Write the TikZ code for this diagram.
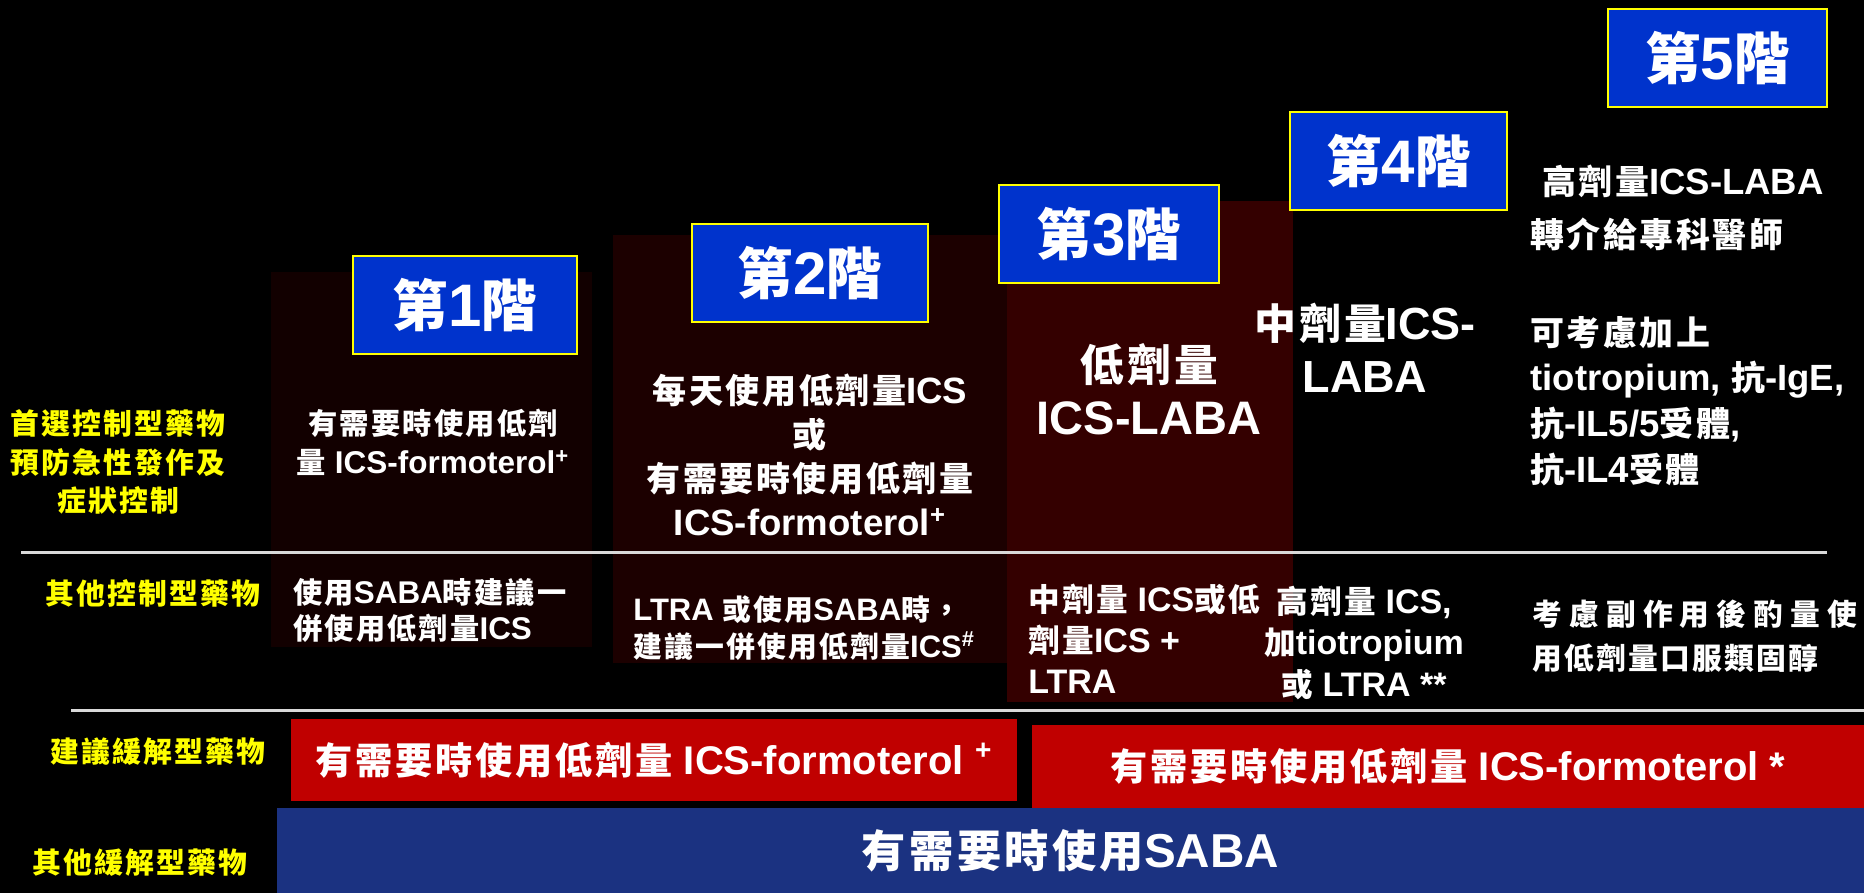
\documentclass[tikz,border=0pt]{standalone}
\usepackage{fontspec}
\setmainfont{Noto Sans CJK TC}[Scale=0.93, LetterSpace=7.5]
\newfontfamily\arialfont{Liberation Sans}
\usepackage{tikz}
\definecolor{STEP}{HTML}{0033CC}
\definecolor{EDGE}{HTML}{FFFF00}
\definecolor{PA}{HTML}{120000}
\definecolor{PB}{HTML}{1C0000}
\definecolor{PC}{HTML}{340000}
\definecolor{REL}{HTML}{C00000}
\definecolor{SABA}{HTML}{1B3281}
\definecolor{RULE}{HTML}{D9D9D9}
\newcommand\ltn[1]{{\arialfont\bfseries #1}}% latin words in Arial bold
\newcommand\fs[2]{\fontsize{#1}{#2}\selectfont}
\tikzset{
  STEP/.style={% Style for the blue step boxes
      rectangle, line width=1.2pt,
      draw=EDGE, fill=STEP,
      text=white, inner sep=0pt,
      minimum height=49pt,
      font=\fs{30}{34}\bfseries,
  },
  YEL/.style={% Style for yellow row labels
      text=EDGE, align=center, inner sep=0pt,
      font=\fs{15.5}{19.25}\bfseries,
  },
  TXT/.style={% Style for white cell text
      text=white, inner sep=0pt,
      font=\bfseries,
  },
  BAR/.style={% Style for reliever bars
      rectangle, inner sep=0pt, text=white,
      font=\fs{20}{24}\bfseries,
  },
  RULE/.style={line width=1.5pt, draw=RULE},
}

\begin{document}
\begin{tikzpicture}[x=0.5pt, y=-0.5pt]
  \useasboundingbox (0,0) rectangle (1864,893);
  \fill[black] (0,0) rectangle (1864,893);
  % dark panels behind steps 1-3
  \foreach \col/\l/\t/\r/\b in {PA/271/272/592/647, PB/613/235/1007/663, PC/1007/201/1293/702}
    \fill[\col] (\l,\t) rectangle (\r,\b);
  \draw[RULE] (21,552) -- (1827,552);
  \draw[RULE] (71,710) -- (1864,710);
  % step boxes
  \foreach \n/\x/\y/\w in {1/465/305/224, 2/810/273/236, 3/1109/234/220, 4/1398.5/161/217, 5/1717.5/58/219}
    \node[STEP, minimum width={\w*0.5pt}] (step\n) at (\x,\y) {第\ltn{\n}階};
  % row labels
  \node[YEL] (first) at (118,462) {首選控制型藥物\\預防急性發作及\\症狀控制};
  \node[YEL] (other) at (153,593) {其他控制型藥物};
  \node[YEL] (relief) at (158,752) {建議緩解型藥物};
  \node[YEL] (otherrelief) at (140,863) {其他緩解型藥物};
  % step 1
  \node[TXT, align=center, font=\fs{15.75}{19.5}\bfseries] (s1a) at (433,442.5) {有需要時使用低劑\\量 \ltn{ICS-formoterol\textsuperscript{+}}};
  \node[TXT, align=left, anchor=west, font=\fs{15.7}{18}\bfseries] (s1b) at (293,610) {使用\ltn{SABA}時建議一\\併使用低劑量\ltn{ICS}};
  % step 2
  \node[TXT, align=center, font=\fs{18.3}{22}\bfseries] (s2a) at (810,455) {每天使用低劑量\ltn{ICS}\\或\\有需要時使用低劑量\\\ltn{ICS-formoterol\textsuperscript{+}}};
  \node[TXT, align=left, anchor=west, font=\fs{15.5}{18.5}\bfseries] (s2b) at (633,628) {\ltn{LTRA} 或使用\ltn{SABA}時，\\建議一併使用低劑量\ltn{ICS\textsuperscript{\#}}};
  % step 3
  \node[TXT, align=center, font=\fs{23.5}{26.5}\bfseries] (s3a) at (1149,389) {低劑量\\\ltn{ICS-LABA}};
  \node[TXT, align=left, anchor=west, font=\fs{17}{20.5}\bfseries] (s3b) at (1028,639) {中劑量 \ltn{ICS}或低\\劑量\ltn{ICS +}\\\ltn{LTRA}};
  % step 4
  \node[TXT, align=center, font=\fs{22.5}{26.5}\bfseries] (s4a) at (1365,348) {中劑量\ltn{ICS-}\\\ltn{LABA}};
  \node[TXT, align=center, font=\fs{17}{20.75}\bfseries] (s4b) at (1364,642.5) {高劑量 \ltn{ICS,}\\加\ltn{tiotropium}\\或 \ltn{LTRA **}};
  % step 5
  \node[TXT, align=left, anchor=west, font=\fs{18.25}{26.5}\bfseries] (s5a) at (1530,207.5) {\hspace*{6pt}高劑量\ltn{ICS-LABA}\\轉介給專科醫師};
  \node[TXT, align=left, anchor=west, font=\fs{18.25}{22.8}\bfseries] (s5b) at (1530,401) {可考慮加上\\\ltn{tiotropium, }抗\ltn{-IgE,}\\抗\ltn{-IL5/5}受體\ltn{,}\\抗\ltn{-IL4}受體};
  \node[TXT, align=left, anchor=west, font=\fs{16}{22}\bfseries] (s5c) at (1532,636) {{\addfontfeature{LetterSpace=24}考慮副作用後酌量使}\\用低劑量口服類固醇};
  % reliever bars
  \node[BAR, fill=REL, minimum width=363pt, minimum height=41pt] (relA) at (654,760) {有需要時使用低劑量 \ltn{ICS-formoterol \textsuperscript{+}}};
  \node[BAR, fill=REL, minimum width=416pt, minimum height=41.5pt] (relB) at (1448,766.5) {有需要時使用低劑量 \ltn{ICS-formoterol *}};
  \node[BAR, fill=SABA, minimum width=793.5pt, minimum height=42.5pt, font=\fs{23.8}{28}\bfseries] (saba) at (1070.5,850.5) {有需要時使用\ltn{SABA}};
\end{tikzpicture}
\end{document}
